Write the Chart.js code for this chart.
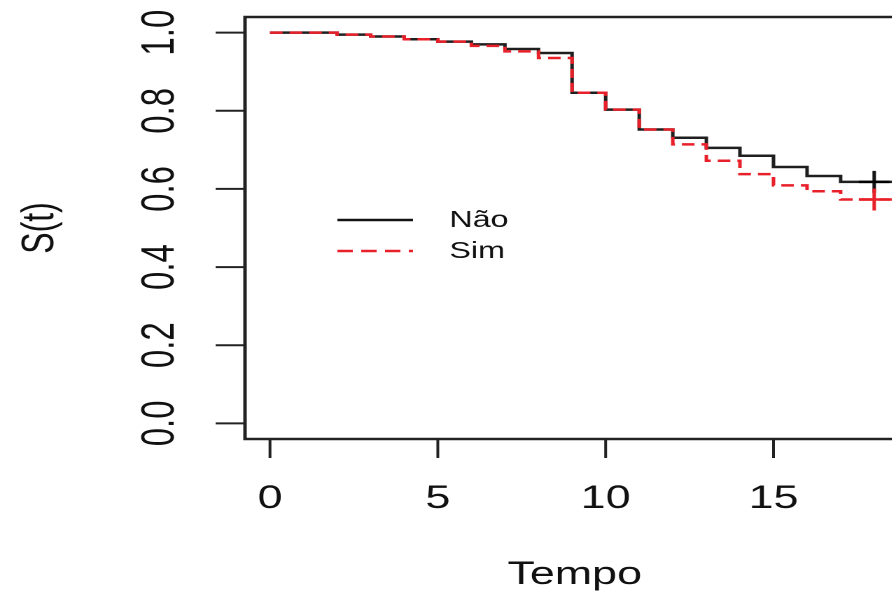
<!DOCTYPE html>
<html>
<head>
<meta charset="utf-8">
<script src="https://cdn.jsdelivr.net/npm/chart.js@4.4.0/dist/chart.umd.min.js"></script>
<style>
  html, body { margin: 0; padding: 0; background: #fff; overflow: hidden; }
  #wrap { width: 660px; height: 594px; transform: scaleX(1.4); transform-origin: 0 0; }
</style>
</head>
<body>
<div id="wrap"><canvas id="km" width="660" height="594"></canvas></div>
<script>
// tempos dos eventos e sobrevida estimada (Kaplan-Meier) por grupo
const tempos = [0, 2, 3, 4, 5, 6, 7, 8, 9, 10, 11, 12, 13, 14, 15, 16, 17, 19];
const survNao = [1, 0.995, 0.99, 0.983, 0.977, 0.970, 0.958, 0.948, 0.846, 0.803, 0.752, 0.731, 0.705, 0.685, 0.656, 0.633, 0.618, 0.618];
const survSim = [1, 0.995, 0.99, 0.983, 0.977, 0.966, 0.952, 0.935, 0.846, 0.803, 0.752, 0.714, 0.672, 0.638, 0.609, 0.594, 0.573, 0.573];

// censuras
const censTempo = [18];
const censNao = [0.618];
const censSim = [0.573];

const xTicks = [0, 5, 10, 15];
const yTicks = [0, 0.2, 0.4, 0.6, 0.8, 1.0];
const grupos = ['Não', 'Sim'];

const fonte = '"Liberation Sans", Arial, Helvetica, sans-serif';
const preto = '#141414';
const vermelho = '#e8202a';

const pts = (xs, ys) => xs.map((x, i) => ({ x: x, y: ys[i] }));

// eixos, caixa e textos no estilo do R
const eixosR = {
  id: 'eixosR',
  afterDraw(chart) {
    const ctx = chart.ctx;
    const a = chart.chartArea;
    const xs = chart.scales.x, ys = chart.scales.y;
    ctx.save();
    ctx.strokeStyle = '#222';
    ctx.fillStyle = '#111';
    ctx.lineWidth = 2.5;
    ctx.strokeRect(a.left, a.top, a.right - a.left, a.bottom - a.top);

    // eixo y
    ctx.lineWidth = 2;
    ctx.font = '33px ' + fonte;
    ctx.textAlign = 'center';
    ctx.textBaseline = 'alphabetic';
    yTicks.forEach(v => {
      const py = ys.getPixelForValue(v);
      ctx.beginPath();
      ctx.moveTo(a.left, py);
      ctx.lineTo(a.left - 21, py);
      ctx.stroke();
      ctx.save();
      ctx.translate(124, py);
      ctx.rotate(-Math.PI / 2);
      ctx.fillText(v.toFixed(1), 0, 0);
      ctx.restore();
    });

    // eixo x
    ctx.font = '32px ' + fonte;
    xTicks.forEach(v => {
      const px = xs.getPixelForValue(v);
      ctx.beginPath();
      ctx.moveTo(px, a.bottom);
      ctx.lineTo(px, a.bottom + 19);
      ctx.stroke();
      ctx.fillText(String(v), px, 508);
    });

    ctx.fillText('Tempo', (a.left + a.right) / 2, 584);
    ctx.save();
    ctx.translate(38, (a.top + a.bottom) / 2);
    ctx.rotate(-Math.PI / 2);
    ctx.fillText('S(t)', 0, 0);
    ctx.restore();

    // legenda
    ctx.lineWidth = 2.5;
    ctx.strokeStyle = preto;
    ctx.beginPath();
    ctx.moveTo(241, 220);
    ctx.lineTo(295, 220);
    ctx.stroke();
    ctx.strokeStyle = vermelho;
    ctx.setLineDash([11, 6]);
    ctx.beginPath();
    ctx.moveTo(241, 251);
    ctx.lineTo(295, 251);
    ctx.stroke();
    ctx.setLineDash([]);
    ctx.font = '23px ' + fonte;
    ctx.textAlign = 'left';
    ctx.fillText(grupos[0], 321, 227);
    ctx.fillText(grupos[1], 321, 258);
    ctx.restore();
  }
};

new Chart(document.getElementById('km'), {
  type: 'line',
  data: {
    datasets: [
      {
        label: grupos[1],
        data: pts(tempos, survSim),
        stepped: true,
        borderColor: vermelho,
        borderWidth: 2.5,
        borderDash: [9, 5],
        pointRadius: 0,
        fill: false
      },
      {
        label: grupos[0],
        data: pts(tempos, survNao),
        stepped: true,
        borderColor: 'rgba(0,0,0,0.88)',
        borderWidth: 2.5,
        pointRadius: 0,
        fill: false
      },
      {
        type: 'scatter',
        label: 'cens ' + grupos[1],
        data: pts(censTempo, censSim),
        pointStyle: 'cross',
        pointRadius: 11,
        pointBorderWidth: 2.5,
        borderColor: vermelho,
        showLine: false
      },
      {
        type: 'scatter',
        label: 'cens ' + grupos[0],
        data: pts(censTempo, censNao),
        pointStyle: 'cross',
        pointRadius: 11,
        pointBorderWidth: 2.5,
        borderColor: preto,
        showLine: false
      }
    ]
  },
  options: {
    responsive: false,
    animation: false,
    devicePixelRatio: 2,
    layout: { padding: { left: 175, top: 17, right: 14, bottom: 155 } },
    plugins: { legend: { display: false }, tooltip: { enabled: false } },
    scales: {
      x: { type: 'linear', min: -0.744, max: 18.9, display: false },
      y: { type: 'linear', min: -0.04, max: 1.04, display: false }
    }
  },
  plugins: [eixosR]
});
</script>
</body>
</html>
